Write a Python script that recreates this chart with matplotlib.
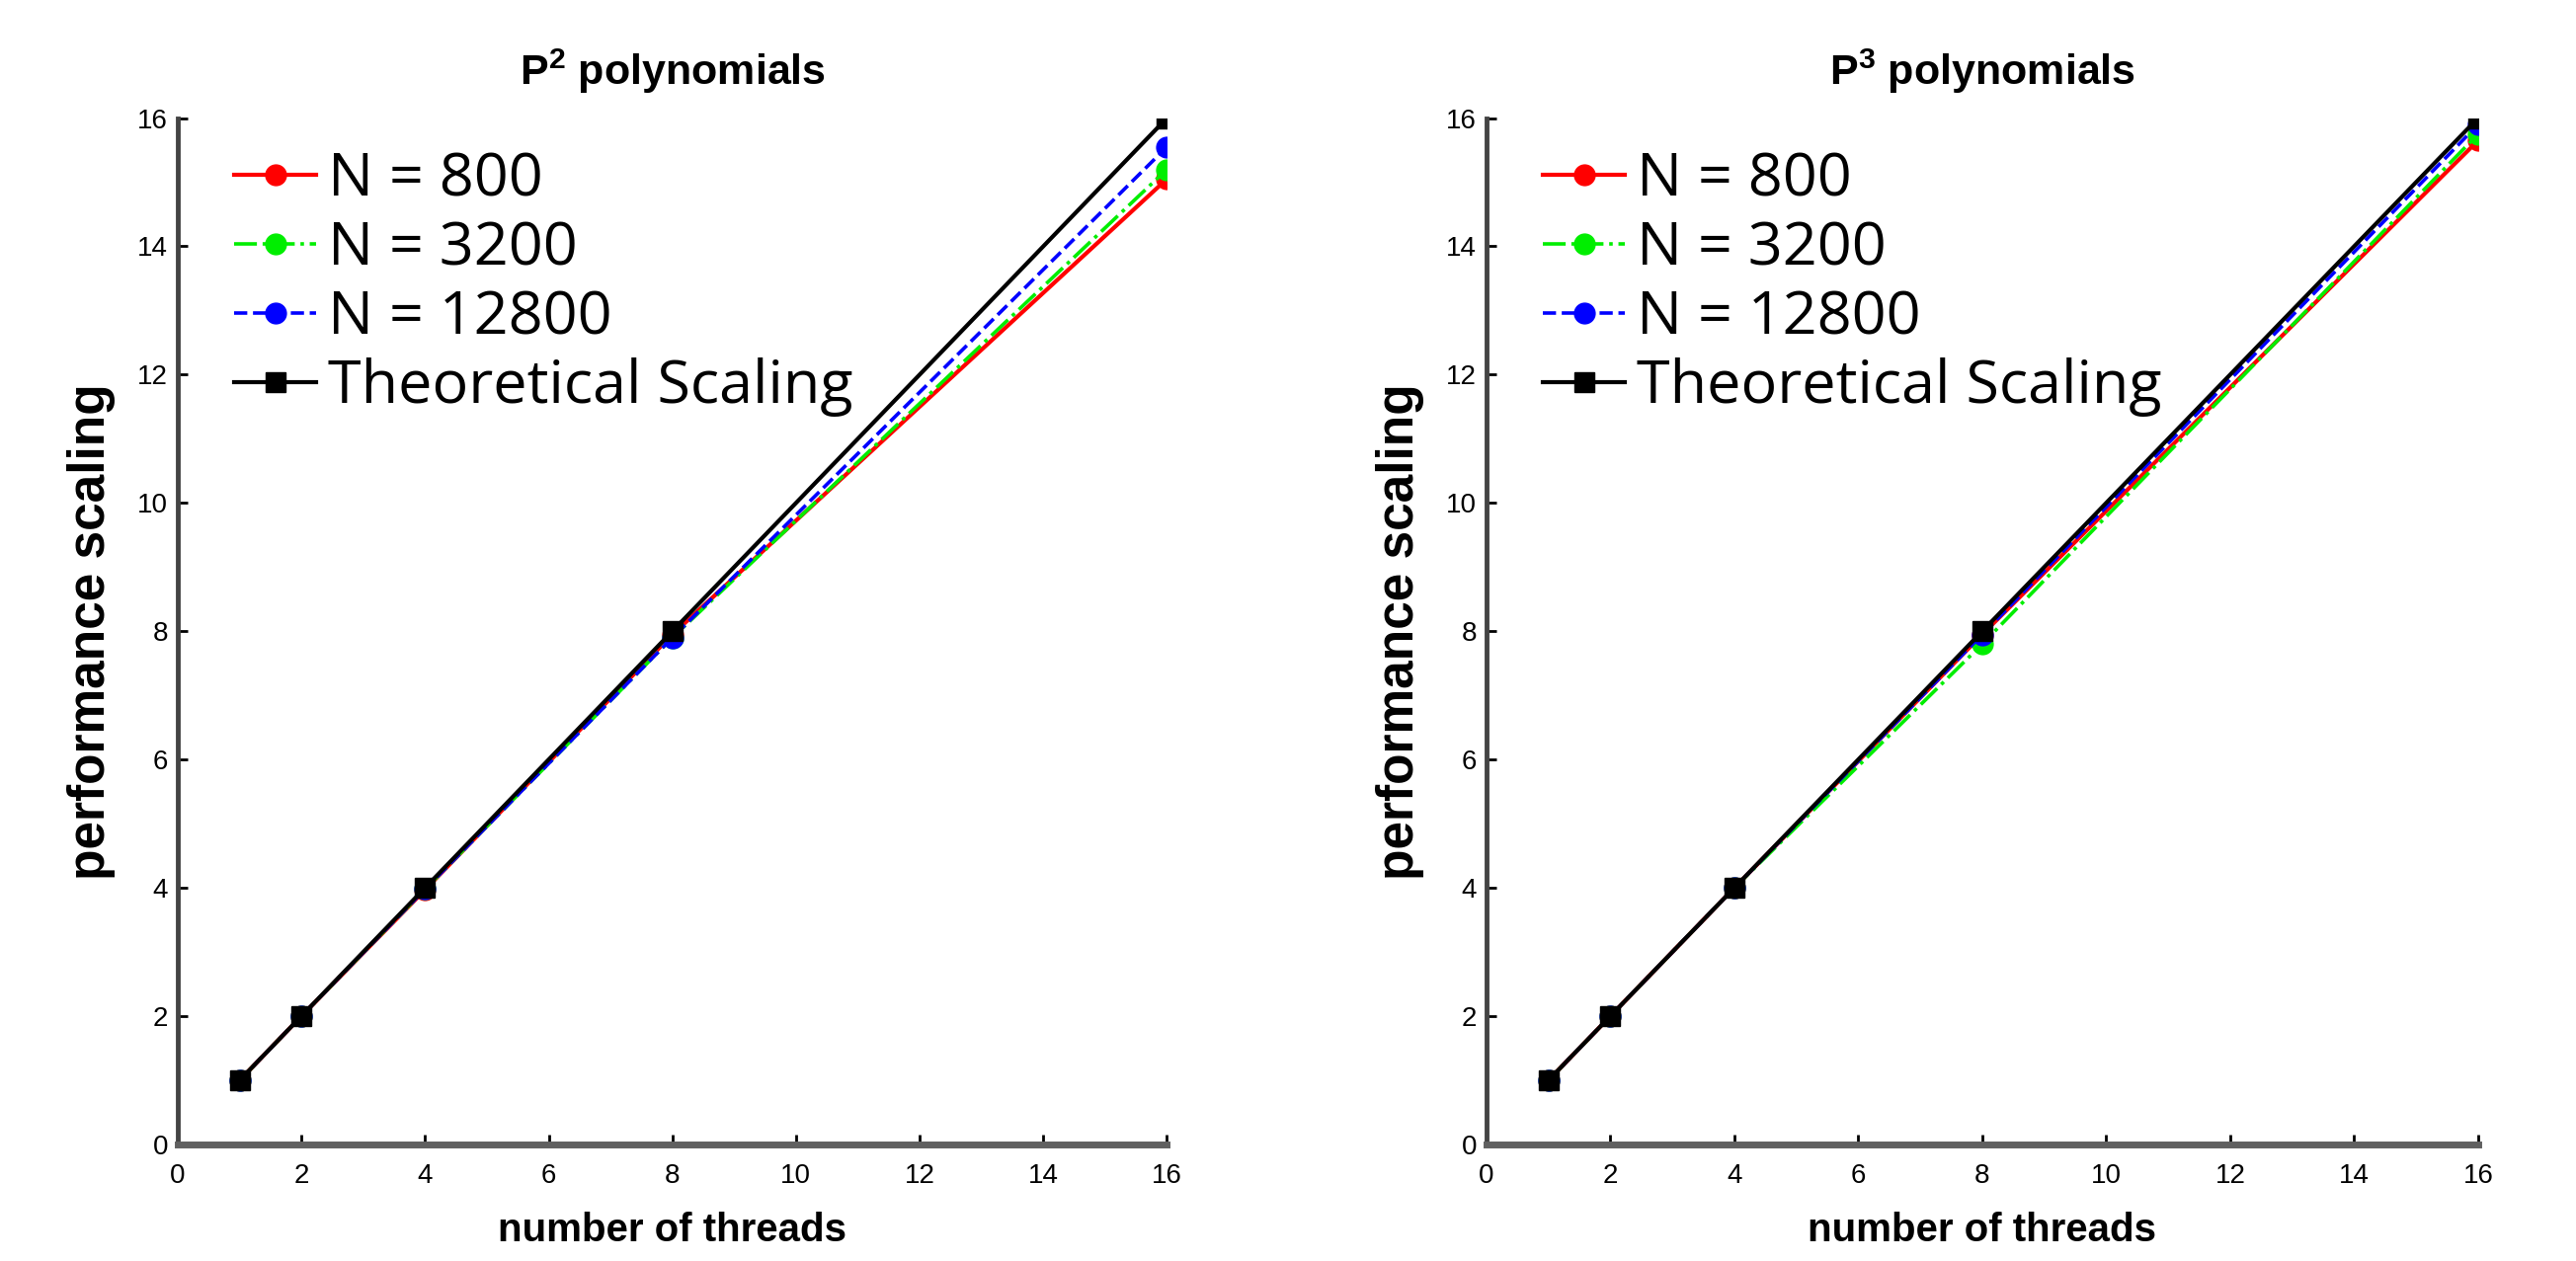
import matplotlib
matplotlib.use('Agg')
import matplotlib.pyplot as plt

plt.rcParams['font.family'] = ['Liberation Sans', 'DejaVu Sans']
plt.rcParams['mathtext.fontset'] = 'custom'
plt.rcParams['mathtext.rm'] = 'Liberation Sans'
plt.rcParams['mathtext.bf'] = 'Liberation Sans:bold'

threads = [1, 2, 4, 8, 16]

# P^2 polynomials
p2_n800 = [1, 2, 3.97, 7.95, 15.05]
p2_n3200 = [1, 2, 3.98, 7.9, 15.2]
p2_n12800 = [1, 2, 3.98, 7.9, 15.55]
p2_theory = [1, 2, 4, 8, 16]

# P^3 polynomials
p3_n800 = [1, 2, 4, 7.95, 15.65]
p3_n3200 = [1, 2, 4, 7.8, 15.75]
p3_n12800 = [1, 2, 4, 7.95, 15.9]
p3_theory = [1, 2, 4, 8, 16]

labels = ['N = 800', 'N = 3200', 'N = 12800', 'Theoretical Scaling']
ticks = [0, 2, 4, 6, 8, 10, 12, 14, 16]

fig = plt.figure(figsize=(26.08, 12.77), dpi=100)
ax1 = fig.add_axes([0.069, 0.0924, 0.384, 0.814])
ax2 = fig.add_axes([0.577, 0.0924, 0.385, 0.814])

def draw(ax, s1, s2, s3, st, title):
    ax.plot(threads, s1, color='red', ls='-', lw=3, marker='o', ms=15, label=labels[0])
    ax.plot(threads, s2, color='#00ee00', ls='-.', lw=2.6, marker='o', ms=15, label=labels[1])
    ax.plot(threads, s3, color='blue', ls='--', lw=2.6, marker='o', ms=15, label=labels[2])
    ax.plot(threads, st, color='black', ls='-', lw=3, marker='s', ms=15, label=labels[3])
    ax.set_xlim(0, 16)
    ax.set_ylim(0, 16)
    ax.set_xticks(ticks)
    ax.set_yticks(ticks)
    ax.tick_params(direction='in', length=7, width=2, labelsize=20)
    ax.tick_params(axis='x', pad=14)
    ax.tick_params(axis='y', pad=7)
    for side in ['top', 'right']:
        ax.spines[side].set_visible(False)
    ax.spines['left'].set_linewidth(3.5)
    ax.spines['bottom'].set_linewidth(5)
    ax.spines['left'].set_color('#444444')
    ax.spines['bottom'].set_color('#606060')
    ax.set_title(title, fontsize=31, fontweight='bold', pad=24)
    ax.set_xlabel('number of threads', fontsize=29, fontweight='bold', labelpad=16)
    ax.set_ylabel('performance scaling', fontsize=37, fontweight='bold', labelpad=16)
    ax.legend(loc='upper left', frameon=False, prop={'family': 'Open Sans', 'size': 44},
              handlelength=1.36, handletextpad=0.2, labelspacing=0.16,
              borderpad=0, borderaxespad=0, bbox_to_anchor=(0.057, 0.968))

draw(ax1, p2_n800, p2_n3200, p2_n12800, p2_theory, r'P$^{\mathbf{2}}$ polynomials')
draw(ax2, p3_n800, p3_n3200, p3_n12800, p3_theory, r'P$^{\mathbf{3}}$ polynomials')

fig.savefig('out.png', dpi=100)
